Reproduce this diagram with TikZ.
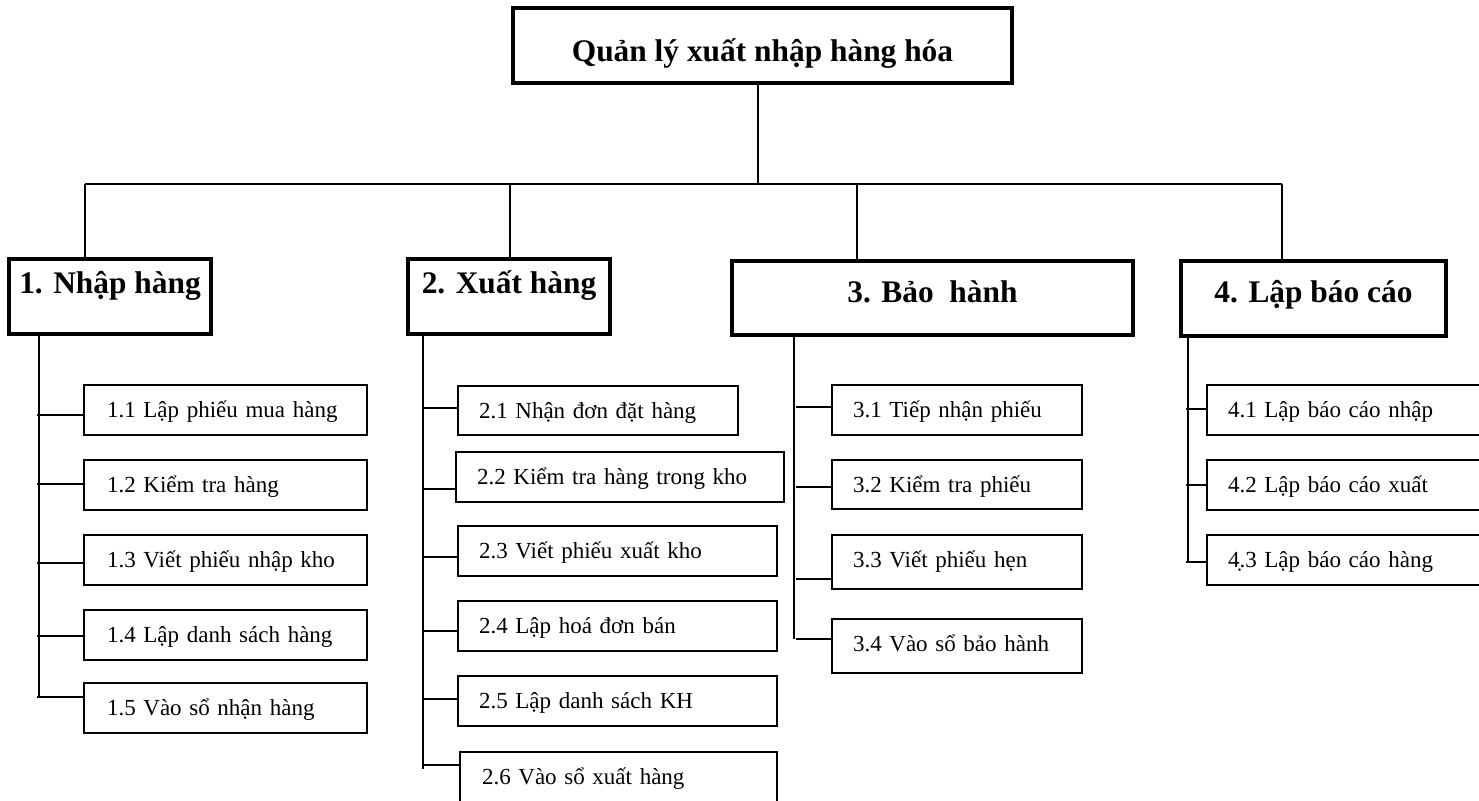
\documentclass[tikz,border=0pt]{standalone}
\usepackage{fontspec}
\setmainfont{Liberation Serif}
\begin{document}
\begin{tikzpicture}[x=0.5pt,y=-0.5pt,
  wire/.style={line width=0.9pt},
  headbox/.style={draw,line width=1.8pt,inner sep=0pt,outer sep=0pt,
    font=\fontsize{15.7pt}{19pt}\selectfont\bfseries},
  leaf/.style={draw,line width=1pt,inner ysep=0pt,outer sep=0pt,align=left,
    text height=16pt,font=\fontsize{11.5pt}{14pt}\selectfont}]

% layout helpers: coordinates are given as left, top, right, bottom
\newcommand\leafbox[7]{%
  \pgfmathsetlengthmacro\lbw{(#4-#2)*0.5pt}%
  \pgfmathsetlengthmacro\ltw{(#4-#2-2*#6)*0.5pt}%
  \pgfmathsetlengthmacro\lbd{(#5-#3-32)*0.5pt}%
  \pgfmathsetlengthmacro\lpx{#6*0.5pt}%
  \node[leaf,anchor=north west,minimum width=\lbw,text width=\ltw,
        inner xsep=\lpx,text depth=\lbd] (#1) at (#2,#3) {\mbox{#7}};}
\newcommand\topbox[7]{%
  \pgfmathsetlengthmacro\hbw{(#4-#2)*0.5pt}%
  \pgfmathsetlengthmacro\hbh{#6*0.5pt}%
  \pgfmathsetlengthmacro\hbd{(#5-#3-#6)*0.5pt}%
  \node[headbox,anchor=north west,minimum width=\hbw,
        text height=\hbh,text depth=\hbd] (#1) at (#2,#3) {#7};}

\useasboundingbox (0,0) rectangle (1479,800);
\fill[white] (0,0) rectangle (1479,800);
\clip (0,0) rectangle (1479,800);

% root and first level
\topbox{root}{513}{8}{1012}{83}{53}{Quản lý xuất nhập hàng hóa}
\topbox{b1}{9}{259}{211}{334}{34}{1. Nhập hàng}
\topbox{b2}{408}{259}{610}{334}{34}{2. Xuất hàng}
\topbox{b3}{732}{261}{1133}{335}{41}{3. Bảo\ \ hành}
\topbox{b4}{1181}{261}{1446}{336}{41}{4. Lập báo cáo}

\coordinate (hub) at (758,184);
\coordinate (t1) at (85,184);
\coordinate (t2) at (510,184);
\coordinate (t3) at (857,184);
\coordinate (t4) at (1282,184);
\draw[wire] (hub |- root.south) -- (hub);
\draw[wire] (t1) -- (t4);
\foreach \i in {1,2,3,4} \draw[wire] (t\i) -- (t\i |- b\i.north);

% 1. Nhập hàng
\leafbox{n11}{84}{385}{367}{435}{23}{1.1 Lập phiếu mua hàng}
\leafbox{n12}{84}{460}{367}{510}{23}{1.2 Kiểm tra hàng}
\leafbox{n13}{84}{535}{367}{585}{23}{1.3 Viết phiếu nhập kho}
\leafbox{n14}{84}{610}{367}{660}{23}{1.4 Lập danh sách hàng}
\leafbox{n15}{84}{683}{367}{733}{23}{1.5 Vào sổ nhận hàng}
\coordinate (k1) at (39,697);
\draw[wire] (k1 |- b1.south) -- (k1);
\foreach \n/\y in {11/415,12/484,13/563,14/636,15/697}{
  \coordinate (j\n) at (37,\y);
  \draw[wire] (j\n) -- (j\n -| n\n.west);}

% 2. Xuất hàng
\leafbox{n21}{458}{386}{738}{435}{21}{2.1 Nhận đơn đặt hàng}
\leafbox{n22}{456}{452}{784}{502}{21}{2.2 Kiểm tra hàng trong kho}
\leafbox{n23}{458}{526}{777}{576}{21}{2.3 Viết phiếu xuất kho}
\leafbox{n24}{458}{601}{777}{651}{21}{2.4 Lập hoá đơn bán}
\leafbox{n25}{458}{676}{777}{726}{21}{2.5 Lập danh sách KH}
\leafbox{n26}{460}{752}{777}{802}{22}{2.6 Vào sổ xuất hàng}
\coordinate (k2) at (423,769);
\draw[wire] (k2 |- b2.south) -- (k2);
\foreach \n/\y in {21/408,22/489,23/557,24/631,25/699,26/765}{
  \coordinate (j\n) at (423,\y);
  \draw[wire] (j\n) -- (j\n -| n\n.west);}

% 3. Bảo hành
\leafbox{n31}{832}{385}{1082}{435}{21}{3.1 Tiếp nhận phiếu}
\leafbox{n32}{832}{460}{1082}{509}{21}{3.2 Kiểm tra phiếu}
\leafbox{n33}{832}{535}{1082}{589}{21}{3.3 Viết phiếu hẹn}
\leafbox{n34}{832}{619}{1082}{673}{21}{3.4 Vào sổ bảo hành}
\coordinate (k3) at (794,639);
\draw[wire] (k3 |- b3.south) -- (k3);
\foreach \n/\y in {31/407,32/487,33/579,34/639}{
  \coordinate (j\n) at (796,\y);
  \draw[wire] (j\n) -- (j\n -| n\n.west);}

% 4. Lập báo cáo
\leafbox{n41}{1207}{385}{1485}{435}{21}{4.1 Lập báo cáo nhập}
\leafbox{n42}{1207}{460}{1485}{510}{21}{4.2 Lập báo cáo xuất}
\leafbox{n43}{1207}{535}{1485}{585}{21}{4̣.3 Lập báo cáo hàng}
\coordinate (k4) at (1188,563);
\draw[wire] (k4 |- b4.south) -- (k4);
\foreach \n/\y in {41/409,42/485,43/562}{
  \coordinate (j\n) at (1186,\y);
  \draw[wire] (j\n) -- (j\n -| n\n.west);}
\end{tikzpicture}
\end{document}
